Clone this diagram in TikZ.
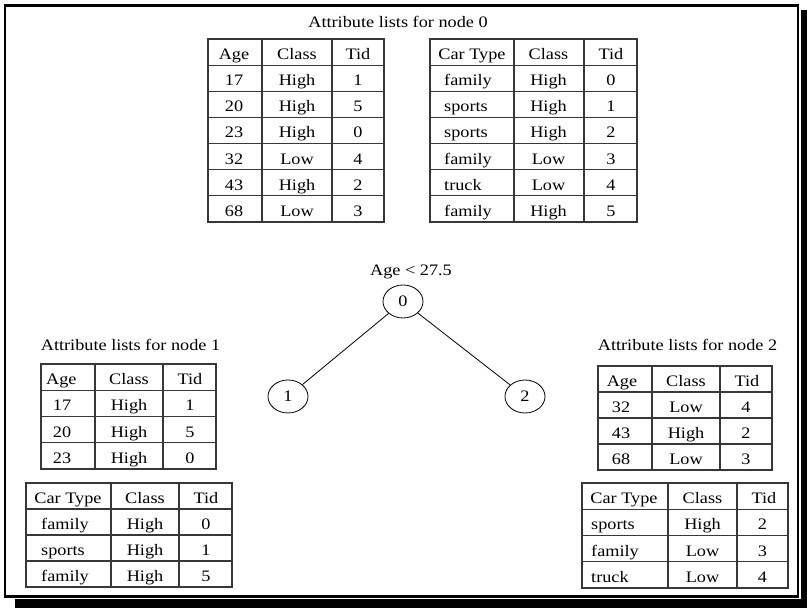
\documentclass[tikz,border=0pt]{standalone}
\usepackage{fontspec}
\setmainfont[FakeStretch=1.14]{Liberation Serif}
\usetikzlibrary{shapes.geometric}
\tikzset{
  tab/.style={draw=black!78, line width=1.1pt},
  cell/.style={inner sep=0pt, anchor=base, font=\fontsize{16}{18}\selectfont},
  cellw/.style={cell, anchor=base west},
  ttl/.style={inner sep=0pt, anchor=base, font=\fontsize{16}{18}\selectfont},
  tnode/.style={ellipse, draw, line width=0.8pt, minimum width=40pt, minimum height=33pt, inner sep=0pt, font=\fontsize{16}{18}\selectfont},
  edge/.style={draw, line width=0.8pt}
}
\begin{document}
\begin{tikzpicture}[x=1pt,y=-1pt]
\useasboundingbox (0,0) rectangle (807,608);
% frame with shadow
\fill[black] (15,10) rectangle (807,608);
\fill[white] (3,3) rectangle (800.5,598.5);
\draw[line width=2.6pt] (5,5.3) rectangle (797.8,596.5);

% ---------- node 0 ----------
\node[ttl] (t0) at (398,27) {Attribute lists for node 0};
% Age table
\draw[tab] (208,39) rectangle (384,222);
\foreach \y in {65.1,91.3,117.4,143.6,169.7,195.9} \draw[tab] (208,\y) -- (384,\y);
\foreach \x in {262,332} \draw[tab] (\x,39) -- (\x,222);
\foreach \a/\b/\c [count=\i from 0] in {Age/Class/Tid,17/High/1,20/High/5,23/High/0,32/Low/4,43/High/2,68/Low/3}{
  \pgfmathsetmacro\yy{39+26.14*\i+20.5}
  \node[cell] (a0r\i c1) at (234,\yy) {\a};
  \node[cell] (a0r\i c2) at (297,\yy) {\b};
  \node[cell] (a0r\i c3) at (358,\yy) {\c};
}
% Car Type table
\draw[tab] (430,39) rectangle (637,222);
\foreach \y in {65.1,91.3,117.4,143.6,169.7,195.9} \draw[tab] (430,\y) -- (637,\y);
\foreach \x in {514,584} \draw[tab] (\x,39) -- (\x,222);
\node[cell] (c0r0c1) at (472,59.5) {Car Type};
\node[cell] (c0r0c2) at (548.5,59.5) {Class};
\node[cell] (c0r0c3) at (611,59.5) {Tid};
\foreach \a/\b/\c [count=\i from 1] in {family/High/0,sports/High/1,sports/High/2,family/Low/3,truck/Low/4,family/High/5}{
  \pgfmathsetmacro\yy{39+26.14*\i+20.5}
  \node[cellw] (c0r\i c1) at (444,\yy) {\a};
  \node[cell] (c0r\i c2) at (548.5,\yy) {\b};
  \node[cell] (c0r\i c3) at (611,\yy) {\c};
}

% ---------- tree ----------
\node[ttl] (split) at (411,275) {Age < 27.5};
\node[tnode] (n0) at (403,301.5) {0};
\node[tnode] (n1) at (288,396.5) {1};
\node[tnode] (n2) at (525,396.5) {2};
\draw[edge] (n0) -- (n1);
\draw[edge] (n0) -- (n2);

% ---------- node 1 ----------
\node[ttl] (t1) at (130.5,350) {Attribute lists for node 1};
\draw[tab] (41,364) rectangle (216,469);
\foreach \y in {390.25,416.5,442.75} \draw[tab] (41,\y) -- (216,\y);
\foreach \x in {95,163} \draw[tab] (\x,364) -- (\x,469);
\node[cellw] (a1r0c1) at (46,384.5) {Age};
\node[cell] (a1r0c2) at (129,384.5) {Class};
\node[cell] (a1r0c3) at (190,384.5) {Tid};
\foreach \a/\b/\c [count=\i from 1] in {17/High/1,20/High/5,23/High/0}{
  \pgfmathsetmacro\yy{364+26.25*\i+20.5}
  \node[cell] (a1r\i c1) at (62,\yy) {\a};
  \node[cell] (a1r\i c2) at (129,\yy) {\b};
  \node[cell] (a1r\i c3) at (190,\yy) {\c};
}
\draw[tab] (26,483) rectangle (232,587);
\foreach \y in {509,535,561} \draw[tab] (26,\y) -- (232,\y);
\foreach \x in {111,179} \draw[tab] (\x,483) -- (\x,587);
\node[cell] (c1r0c1) at (68,503.5) {Car Type};
\node[cell] (c1r0c2) at (145,503.5) {Class};
\node[cell] (c1r0c3) at (206,503.5) {Tid};
\foreach \a/\b/\c [count=\i from 1] in {family/High/0,sports/High/1,family/High/5}{
  \pgfmathsetmacro\yy{483+26*\i+20.5}
  \node[cellw] (c1r\i c1) at (41,\yy) {\a};
  \node[cell] (c1r\i c2) at (145,\yy) {\b};
  \node[cell] (c1r\i c3) at (206,\yy) {\c};
}

% ---------- node 2 ----------
\node[ttl] (t2) at (687.5,350) {Attribute lists for node 2};
\draw[tab] (598,366) rectangle (772,470);
\foreach \y in {392,418,444} \draw[tab] (598,\y) -- (772,\y);
\foreach \x in {652,720} \draw[tab] (\x,366) -- (\x,470);
\node[cell] (a2r0c1) at (622,386.5) {Age};
\node[cell] (a2r0c2) at (686,386.5) {Class};
\node[cell] (a2r0c3) at (747,386.5) {Tid};
\foreach \a/\b/\c [count=\i from 1] in {32/Low/4,43/High/2,68/Low/3}{
  \pgfmathsetmacro\yy{366+26*\i+20.5}
  \node[cell] (a2r\i c1) at (621,\yy) {\a};
  \node[cell] (a2r\i c2) at (686,\yy) {\b};
  \node[cell] (a2r\i c3) at (746,\yy) {\c};
}
\draw[tab] (582,483) rectangle (788,588);
\foreach \y in {509.25,535.5,561.75} \draw[tab] (582,\y) -- (788,\y);
\foreach \x in {668,737} \draw[tab] (\x,483) -- (\x,588);
\node[cell] (c2r0c1) at (624,503.5) {Car Type};
\node[cell] (c2r0c2) at (702.5,503.5) {Class};
\node[cell] (c2r0c3) at (764,503.5) {Tid};
\foreach \a/\b/\c [count=\i from 1] in {sports/High/2,family/Low/3,truck/Low/4}{
  \pgfmathsetmacro\yy{483+26.25*\i+20.5}
  \node[cellw] (c2r\i c1) at (591,\yy) {\a};
  \node[cell] (c2r\i c2) at (702.5,\yy) {\b};
  \node[cell] (c2r\i c3) at (762.5,\yy) {\c};
}
\end{tikzpicture}
\end{document}
